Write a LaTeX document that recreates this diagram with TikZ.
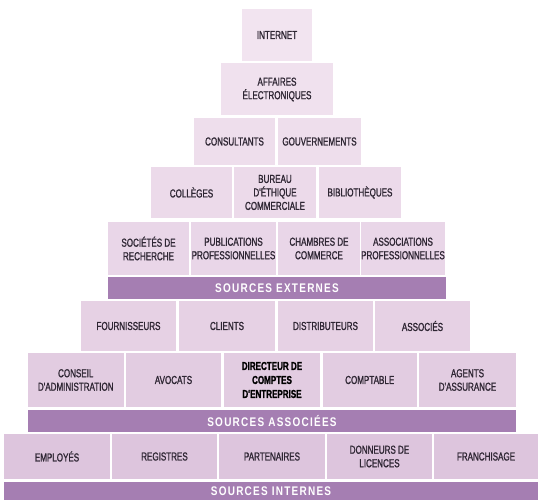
\documentclass[tikz,border=0pt]{standalone}
\usepackage{fontspec}
\usepackage{xcolor}
\usetikzlibrary{positioning}
\newfontfamily\boxfont[FakeStretch=0.7,FakeBold=1.2]{Liberation Sans}
\newfontfamily\boxboldfont[FakeStretch=0.7,FakeBold=1]{Liberation Sans Bold}
\newfontfamily\barfont[FakeStretch=0.8,LetterSpace=10]{Liberation Sans Bold}
\definecolor{rowA}{HTML}{F2E4F0}
\definecolor{rowB}{HTML}{F0E1EE}
\definecolor{rowC}{HTML}{EEDEEC}
\definecolor{rowD}{HTML}{ECDAEA}
\definecolor{rowE}{HTML}{E9D6E8}
\definecolor{rowF}{HTML}{E6D1E4}
\definecolor{rowG}{HTML}{E2CCE1}
\definecolor{rowH}{HTML}{DDC5DD}
\definecolor{barpurple}{HTML}{A57EB2}
\definecolor{boxtext}{HTML}{2E2633}
\begin{document}
\begin{tikzpicture}[x=1pt,y=-1pt,
    brick/.style={rectangle,inner sep=0pt,align=center,text=boxtext,
      font=\boxfont\fontsize{11.5}{13.5}\selectfont},
    band/.style={rectangle,inner sep=0pt,fill=barpurple,text=white,
      font=\barfont\fontsize{12.5}{14}\selectfont}]
                        \useasboundingbox (0,0) rectangle (538,500);%

                        % Top: internet
                        \node [brick,fill=rowA,minimum width=70pt,minimum height=52pt] (internet) at (277,35) {INTERNET};%

                        % Affaires electroniques
                        \node [brick,fill=rowB,minimum width=112pt,minimum height=52pt] (affaires) at (277,89.5) {AFFAIRES\\\'ELECTRONIQUES};%

                        % Consultants, gouvernements
                        \node [brick,fill=rowC,minimum width=81pt,minimum height=47pt] (consult) at (234.5,141.5) {CONSULTANTS};%
                        \node [brick,fill=rowC,minimum width=83pt,minimum height=47pt] (gouv) at (319.5,141.5) {GOUVERNEMENTS};%

                        % Colleges, bureau, bibliotheques
                        \node [brick,fill=rowD,minimum width=81pt,minimum height=51pt] (colleges) at (191.5,192.5) {COLL\`EGES};%
                        \node [brick,fill=rowD,minimum width=82pt,minimum height=51pt] (bureau) at (275,192.5) {BUREAU\\D'\'ETHIQUE\\COMMERCIALE};%
                        \node [brick,fill=rowD,minimum width=82pt,minimum height=51pt] (biblio) at (360,192.5) {BIBLIOTH\`EQUES};%

                        % Societes, publications, chambres, associations
                        \node [brick,fill=rowE,minimum width=81pt,minimum height=53pt] (societes) at (148.5,248.5) {SOCI\'ET\'ES DE\\RECHERCHE};%
                        \node [brick,fill=rowE,minimum width=85pt,minimum height=53pt] (publi) at (233.5,248.5) {PUBLICATIONS\\PROFESSIONNELLES};%
                        \node [brick,fill=rowE,minimum width=82pt,minimum height=53pt] (chambres) at (319,248.5) {CHAMBRES DE\\COMMERCE};%
                        \node [brick,fill=rowE,minimum width=84pt,minimum height=53pt] (assprof) at (403,248.5) {ASSOCIATIONS\\PROFESSIONNELLES};%

                        % Band: sources externes
                        \node [band,minimum width=338pt,minimum height=22pt] (externes) at (277,288) {SOURCES EXTERNES};%

                        % Fournisseurs, clients, distributeurs, associes
                        \node [brick,fill=rowF,minimum width=95pt,minimum height=50pt] (fourn) at (128.5,326) {FOURNISSEURS};%
                        \node [brick,fill=rowF,minimum width=96pt,minimum height=50pt] (clients) at (227,326) {CLIENTS};%
                        \node [brick,fill=rowF,minimum width=95pt,minimum height=50pt] (distrib) at (325.5,326) {DISTRIBUTEURS};%
                        \node [brick,fill=rowF,minimum width=95pt,minimum height=50pt] (associes) at (422.5,326) {ASSOCI\'ES};%

                        % Conseil, avocats, directeur, comptable, agents
                        \node [brick,fill=rowG,minimum width=95.5pt,minimum height=54pt] (conseil) at (75.75,380) {CONSEIL\\D'ADMINISTRATION};%
                        \node [brick,fill=rowG,minimum width=95pt,minimum height=54pt] (avocats) at (173.5,380) {AVOCATS};%
                        \node [brick,fill=rowG,minimum width=96pt,minimum height=54pt,text=black,
                               font=\boxboldfont\fontsize{11.5}{14}\selectfont] (directeur) at (272,380) {DIRECTEUR DE\\COMPTES\\D'ENTREPRISE};%
                        \node [brick,fill=rowG,minimum width=94.5pt,minimum height=54pt] (comptable) at (369.75,380) {COMPTABLE};%
                        \node [brick,fill=rowG,minimum width=97pt,minimum height=54pt] (agents) at (467.5,380) {AGENTS\\D'ASSURANCE};%

                        % Band: sources associees
                        \node [band,minimum width=488pt,minimum height=22pt] (associees) at (272,421) {SOURCES ASSOCI\'EES};%

                        % Employes, registres, partenaires, donneurs, franchisage
                        \node [brick,fill=rowH,minimum width=106pt,minimum height=45pt] (employes) at (57,456.5) {EMPLOY\'ES};%
                        \node [brick,fill=rowH,minimum width=105pt,minimum height=45pt] (registres) at (164.5,456.5) {REGISTRES};%
                        \node [brick,fill=rowH,minimum width=106pt,minimum height=45pt] (partenaires) at (272,456.5) {PARTENAIRES};%
                        \node [brick,fill=rowH,minimum width=105pt,minimum height=45pt] (donneurs) at (379.5,456.5) {DONNEURS DE\\LICENCES};%
                        \node [brick,fill=rowH,minimum width=104pt,minimum height=45pt] (franchise) at (486,456.5) {FRANCHISAGE};%

                        % Band: sources internes
                        \node [band,minimum width=534pt,minimum height=18pt] (internes) at (271,491) {SOURCES INTERNES};%
\end{tikzpicture}
\end{document}
